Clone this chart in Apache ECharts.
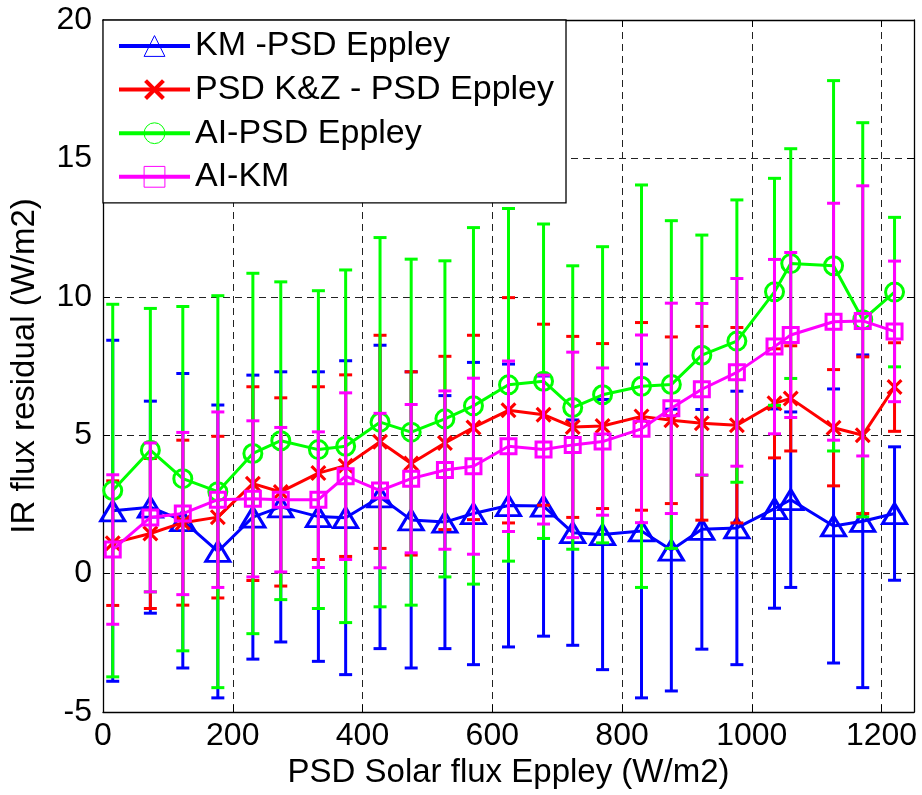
<!DOCTYPE html>
<html>
<head>
<meta charset="utf-8">
<script src="https://cdn.jsdelivr.net/npm/echarts@6/dist/echarts.min.js"></script>
<style>
html,body{margin:0;padding:0;background:#fff;}
#chart{width:922px;height:795px;}
</style>
</head>
<body>
<div id="chart"></div>
<script>
// ---- data ----
const xValues = [15, 73, 123, 177, 231, 274, 332, 374, 427, 475, 527, 571, 625, 679, 724, 770, 830, 876, 923, 977, 1035, 1060, 1126, 1171, 1220];

const seriesNames = ['KM -PSD Eppley', 'PSD K&Z - PSD Eppley', 'AI-PSD Eppley', 'AI-KM'];

const kmMean = [2.27, 2.40, 1.91, 0.80, 2.04, 2.41, 2.06, 2.02, 2.77, 1.94, 1.86, 2.17, 2.46, 2.44, 1.48, 1.41, 1.54, 0.85, 1.60, 1.65, 2.35, 2.67, 1.72, 1.89, 2.17];
const kmErr  = [6.16, 3.83, 5.32, 5.29, 5.13, 4.88, 5.23, 5.67, 5.48, 5.35, 4.57, 5.46, 5.11, 4.70, 4.07, 4.88, 6.03, 5.09, 4.33, 4.94, 3.60, 3.17, 4.95, 6.01, 2.41];

const kzMean = [1.10, 1.45, 1.84, 2.04, 3.25, 2.95, 3.63, 3.90, 4.76, 3.98, 4.72, 5.28, 5.90, 5.74, 5.30, 5.33, 5.68, 5.54, 5.43, 5.36, 6.15, 6.33, 5.27, 5.00, 6.74];
const kzErr  = [2.25, 2.71, 2.98, 2.92, 3.50, 3.40, 3.12, 3.28, 3.85, 3.31, 3.13, 3.33, 4.07, 3.27, 3.27, 2.98, 3.39, 3.01, 3.50, 3.53, 1.97, 1.90, 2.10, 2.83, 1.60];

const aiPsdMean = [3.00, 4.46, 3.43, 2.96, 4.34, 4.80, 4.48, 4.60, 5.47, 5.11, 5.59, 6.06, 6.82, 6.95, 6.00, 6.46, 6.77, 6.83, 7.89, 8.40, 10.18, 11.20, 11.12, 9.17, 10.17];
const aiPsdErr  = [6.73, 5.12, 6.22, 7.08, 6.51, 5.74, 5.74, 6.37, 6.67, 6.25, 5.71, 6.44, 6.37, 5.68, 5.12, 5.35, 7.27, 5.92, 4.34, 5.10, 4.10, 4.15, 6.69, 7.12, 2.70];

const aiKmMean = [0.87, 2.03, 2.17, 2.67, 2.70, 2.67, 2.67, 3.52, 3.00, 3.43, 3.74, 3.88, 4.60, 4.48, 4.65, 4.77, 5.23, 5.97, 6.66, 7.27, 8.20, 8.62, 9.10, 9.13, 8.75];
const aiKmErr  = [2.70, 2.69, 2.93, 3.17, 2.82, 2.61, 2.45, 3.01, 2.79, 2.68, 2.86, 3.18, 3.08, 2.69, 3.35, 2.66, 3.39, 3.80, 3.10, 3.39, 3.15, 2.98, 4.28, 4.88, 2.54];

const xTicks = [0, 200, 400, 600, 800, 1000, 1200];
const yTicks = [-5, 0, 5, 10, 15, 20];

// ---- chart ----
const FONT = 'Liberation Sans, Arial, sans-serif';
const colors = ['#0000ff', '#ff0000', '#00ff00', '#ff00ff'];
// filled thin "x" shape (so it can be coloured by fill)
const crossPath = 'path://M0 1.4L1.4 0L5 3.6L8.6 0L10 1.4L6.4 5L10 8.6L8.6 10L5 6.4L1.4 10L0 8.6L3.6 5Z';
const symbols = ['triangle', crossPath, 'circle', 'rect'];
const symbolSizes = [[24, 20], 16, 18, 15];
const means = [kmMean, kzMean, aiPsdMean, aiKmMean];
const errs = [kmErr, kzErr, aiPsdErr, aiKmErr];

function errRender(color) {
  return function (params, api) {
    const x = api.value(0), m = api.value(1), e = api.value(2);
    const top = api.coord([x, m + e]);
    const bot = api.coord([x, m - e]);
    const hw = 6.5;
    const style = { stroke: color, lineWidth: 3, fill: null };
    return {
      type: 'group',
      children: [
        { type: 'line', shape: { x1: top[0], y1: top[1], x2: bot[0], y2: bot[1] }, style: style },
        { type: 'line', shape: { x1: top[0] - hw, y1: top[1], x2: top[0] + hw, y2: top[1] }, style: style },
        { type: 'line', shape: { x1: bot[0] - hw, y1: bot[1], x2: bot[0] + hw, y2: bot[1] }, style: style }
      ]
    };
  };
}

function markerStyle(i, bw) {
  if (i === 1) return { color: colors[i], borderColor: colors[i], borderWidth: 0 };
  return { color: 'rgba(0,0,0,0)', borderColor: colors[i], borderWidth: bw };
}

const series = [];
for (let i = 0; i < 4; i++) {
  series.push({
    type: 'custom',
    name: 'err' + i,
    renderItem: errRender(colors[i]),
    data: xValues.map((x, k) => [x, means[i][k], errs[i][k]]),
    encode: { x: 0, y: 1 },
    z: 10 + i * 2,
    silent: true,
    animation: false
  });
  series.push({
    type: 'line',
    name: seriesNames[i],
    data: xValues.map((x, k) => [x, means[i][k]]),
    symbol: symbols[i],
    symbolSize: symbolSizes[i],
    showAllSymbol: true,
    lineStyle: { color: colors[i], width: 3 },
    itemStyle: markerStyle(i, 3),
    z: 11 + i * 2,
    animation: false
  });
}

const gridLine = { show: true, lineStyle: { color: '#222', width: 1, type: [7, 5] } };
const axisLineStyle = { show: true, onZero: false, lineStyle: { color: '#000', width: 1.3 } };

const chart = echarts.init(document.getElementById('chart'), null, { renderer: 'canvas' });
chart.setOption({
  animation: false,
  backgroundColor: '#fff',
  grid: { left: 103, top: 20, right: 8, bottom: 83, containLabel: false },
  xAxis: [{
    type: 'value', min: 0, max: 1250, interval: 200,
    axisLine: axisLineStyle,
    axisTick: { show: true, inside: true, length: 7, lineStyle: { color: '#000' } },
    axisLabel: {
      color: '#000', fontFamily: FONT, fontSize: 32, margin: 8,
      formatter: v => (xTicks.indexOf(v) >= 0 ? String(v) : '')
    },
    splitLine: gridLine,
    name: 'PSD Solar flux Eppley (W/m2)', nameLocation: 'middle', nameGap: 36,
    nameTextStyle: { color: '#000', fontFamily: FONT, fontSize: 33 }
  }, {
    type: 'value', min: 0, max: 1250, interval: 200, position: 'top',
    axisLine: axisLineStyle,
    axisTick: { show: true, inside: true, length: 7, lineStyle: { color: '#000' } },
    axisLabel: { show: false }, splitLine: { show: false }
  }],
  yAxis: [{
    type: 'value', min: -5, max: 20, interval: 5,
    axisLine: axisLineStyle,
    axisTick: { show: true, inside: true, length: 7, lineStyle: { color: '#000' } },
    axisLabel: {
      color: '#000', fontFamily: FONT, fontSize: 32, margin: 11,
      formatter: v => (yTicks.indexOf(v) >= 0 ? String(v) : '')
    },
    splitLine: gridLine,
    name: 'IR flux residual (W/m2)', nameLocation: 'middle', nameGap: 62,
    nameTextStyle: { color: '#000', fontFamily: FONT, fontSize: 33 }
  }, {
    type: 'value', min: -5, max: 20, interval: 5, position: 'right',
    axisLine: axisLineStyle,
    axisTick: { show: true, inside: true, length: 7, lineStyle: { color: '#000' } },
    axisLabel: { show: false }, splitLine: { show: false }
  }],
  legend: {
    data: seriesNames.map((n, i) => ({ name: n, itemStyle: markerStyle(i, 1) })),
    orient: 'vertical', left: 103, top: 20,
    backgroundColor: '#fff', borderColor: '#000', borderWidth: 1.3, borderRadius: 0,
    padding: [8, 12, 8, 14], itemGap: 7.6, itemWidth: 71, itemHeight: 26,
    textStyle: { fontFamily: FONT, fontSize: 34, color: '#000', lineHeight: 36 },
    lineStyle: { width: 4 },
    selectedMode: false,
    z: 20
  },
  series: series
});
</script>
</body>
</html>
